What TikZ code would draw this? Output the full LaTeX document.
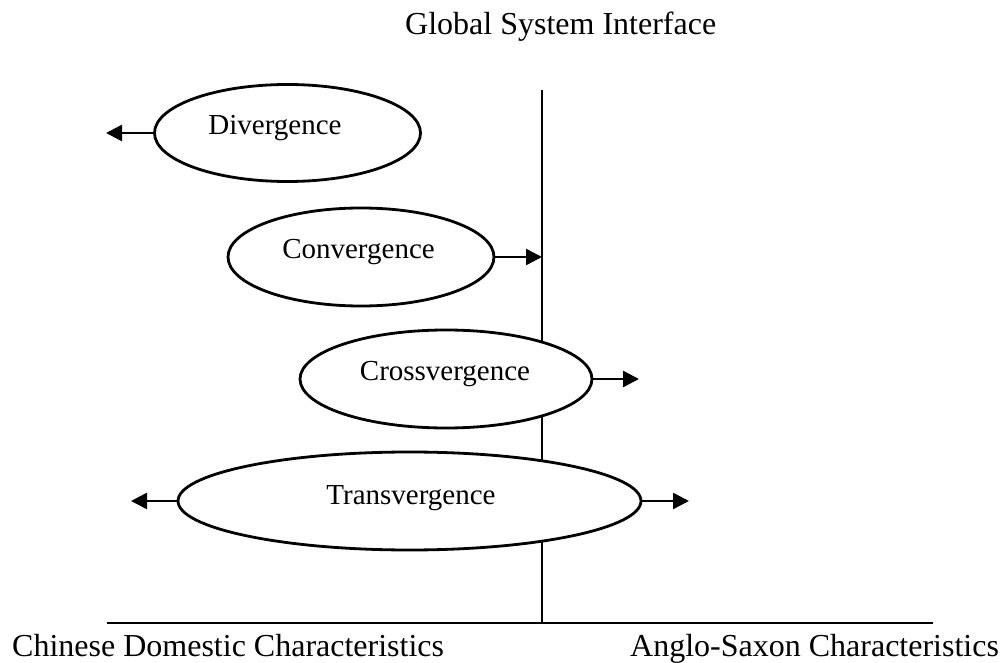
\documentclass[tikz,border=0pt]{standalone}
\usepackage{fontspec}
\setmainfont{Liberation Serif}
\usetikzlibrary{arrows.meta,shapes.geometric}
\begin{document}
\begin{tikzpicture}[x=1pt,y=-1pt,
  oval/.style={draw, fill=white, ellipse, line width=2.8pt, inner sep=0pt},
  lbl/.style={anchor=base, inner sep=0pt, font=\fontsize{29}{33}\selectfont},
  caption/.style={inner sep=0pt, font=\fontsize{32}{36}\selectfont},
  axis/.style={line width=2.2pt},
  push/.style={line width=2.6pt, -{Triangle[length=16pt,width=16pt]}}]
\useasboundingbox (0,0) rectangle (1005,663);

% title and the interface line
\node[caption, anchor=base west] (title) at (405,35) {Global System Interface};
\coordinate (vtop) at (542,90);
\coordinate (vbot) at (542,623);
\draw[axis] (vtop) -- (vbot);

% base line with the two poles
\coordinate (hl) at (107,623);
\coordinate (hr) at (933,623);
\draw[axis, line width=2.6pt] (hl) -- (hr);
\node[caption, anchor=base west] (cn) at (12,656) {Chinese Domestic Characteristics};
\node[caption, anchor=base west] (as) at (630,656) {Anglo-Saxon Characteristics};

% the four strategies
\node[oval, minimum width=266, minimum height=97] (div) at (287.5,133) {};
\node[lbl] (divt) at (275,135) {Divergence};
\node[oval, minimum width=266, minimum height=98] (con) at (361,257) {};
\node[lbl] (cont) at (358.5,259) {Convergence};
\node[oval, minimum width=292, minimum height=98] (cro) at (446,379) {};
\node[lbl] (crot) at (445,381) {Crossvergence};
\node[oval, minimum width=463, minimum height=98] (tra) at (409.5,501) {};
\node[lbl] (trat) at (411,504) {Transvergence};

% arrow end points
\coordinate (divL) at (106,133);
\coordinate (conR) at (542,257);
\coordinate (croR) at (639,379);
\coordinate (traL) at (131,501);
\coordinate (traR) at (689,501);

\draw[push] (div.west) -- (div.west -| divL);
\draw[push] (con.east) -- (con.east -| conR);
\draw[push] (cro.east) -- (cro.east -| croR);
\draw[push] (tra.west) -- (tra.west -| traL);
\draw[push] (tra.east) -- (tra.east -| traR);
\end{tikzpicture}
\end{document}
